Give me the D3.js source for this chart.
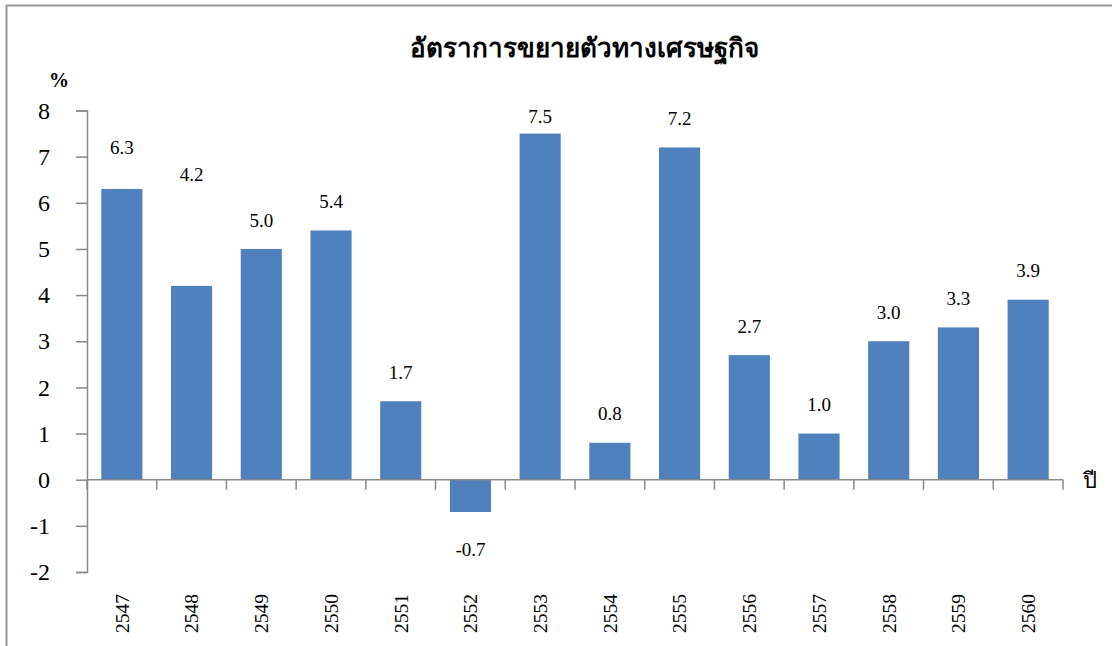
<!DOCTYPE html>
<html>
<head>
<meta charset="utf-8">
<script src="https://cdn.jsdelivr.net/npm/d3@7"></script>
<style>
  body { margin: 0; background: #fff; }
  svg text { font-family: "Liberation Serif", "Times New Roman", serif; fill: #000; }
</style>
</head>
<body>
<script>
var years = ['2547','2548','2549','2550','2551','2552','2553','2554','2555','2556','2557','2558','2559','2560'];
var growth = [6.3, 4.2, 5.0, 5.4, 1.7, -0.7, 7.5, 0.8, 7.2, 2.7, 1.0, 3.0, 3.3, 3.9];
var yTicks = [-2, -1, 0, 1, 2, 3, 4, 5, 6, 7, 8];
var title = 'อัตราการขยายตัวทางเศรษฐกิจ';

var w = 1112;
var h = 646;
var plotLeft = 87, plotRight = 1063, plotTop = 110.5, plotBottom = 572;
var barColor = '#4F81BD';
var axisColor = '#898989';

// plain hyphen instead of d3's unicode minus
var fmtInt = function(d){ return d3.format('d')(d).replace('\u2212', '-'); };
var fmtVal = function(d){ return d3.format('.1f')(d).replace('\u2212', '-'); };

var svg = d3.select('body')
  .append('svg')
  .attr('width', w)
  .attr('height', h);

// outer frame (top and left visible)
svg.append('rect')
  .attr('x', 6.5).attr('y', 5.5)
  .attr('width', w + 20).attr('height', h + 20)
  .attr('fill', 'none')
  .attr('stroke', '#999')
  .attr('stroke-width', 2);

var xScale = d3.scaleBand()
  .domain(years)
  .range([plotLeft, plotRight])
  .paddingInner(0.41)
  .paddingOuter(0.205);

var yScale = d3.scaleLinear()
  .domain([-2, 8])
  .range([plotBottom, plotTop]);

var step = xScale.step();

// bars
svg.selectAll('rect.bar')
  .data(growth)
  .enter()
  .append('rect')
  .attr('class', 'bar')
  .attr('x', function(d, i){ return xScale(years[i]); })
  .attr('y', function(d){ return yScale(Math.max(0, d)); })
  .attr('width', xScale.bandwidth())
  .attr('height', function(d){ return Math.abs(yScale(d) - yScale(0)); })
  .attr('fill', barColor);

// y axis
var yAxis = d3.axisLeft(yScale)
  .tickValues(yTicks)
  .tickSize(11)
  .tickPadding(26)
  .tickFormat(fmtInt);

var gy = svg.append('g')
  .attr('transform', 'translate(' + plotLeft + ',0)')
  .call(yAxis);
gy.select('.domain').attr('stroke', axisColor).attr('stroke-width', 1.5);
gy.selectAll('.tick line').attr('stroke', axisColor).attr('stroke-width', 1.5);
gy.selectAll('.tick text')
  .attr('font-size', '24px')
  .style('font-family', '"Liberation Serif", serif')
  .attr('fill', '#000');

// zero line with category ticks
svg.append('line')
  .attr('x1', plotLeft).attr('x2', plotRight)
  .attr('y1', yScale(0)).attr('y2', yScale(0))
  .attr('stroke', axisColor).attr('stroke-width', 1.5);

svg.selectAll('line.xtick')
  .data(d3.range(years.length + 1))
  .enter()
  .append('line')
  .attr('class', 'xtick')
  .attr('x1', function(i){ return plotLeft + i * step; })
  .attr('x2', function(i){ return plotLeft + i * step; })
  .attr('y1', yScale(0))
  .attr('y2', yScale(0) + 10)
  .attr('stroke', axisColor).attr('stroke-width', 1.5);

// x labels, rotated
svg.selectAll('text.xlab')
  .data(years)
  .enter()
  .append('text')
  .attr('class', 'xlab')
  .attr('transform', function(d){
    var cx = xScale(d) + xScale.bandwidth() / 2;
    return 'translate(' + cx + ',594) rotate(-90)';
  })
  .attr('text-anchor', 'end')
  .attr('dy', '0.35em')
  .attr('font-size', '19.5px')
  .text(function(d){ return d; });

// value labels (pixel offset above bar top, a few moved by hand)
var labelOffset = { 0: 42, 1: 112, 6: 17 };
svg.selectAll('text.val')
  .data(growth)
  .enter()
  .append('text')
  .attr('class', 'val')
  .attr('x', function(d, i){ return xScale(years[i]) + xScale.bandwidth() / 2; })
  .attr('y', function(d, i){
    if (d < 0) return yScale(d) + 37;
    var off = labelOffset[i] !== undefined ? labelOffset[i] : 29;
    return yScale(d) - off;
  })
  .attr('dy', '0.35em')
  .attr('text-anchor', 'middle')
  .attr('font-size', '19px')
  .text(fmtVal);

// title
svg.append('text')
  .attr('x', 584)
  .attr('y', 48)
  .attr('dy', '0.35em')
  .attr('text-anchor', 'middle')
  .attr('font-size', '26px')
  .attr('font-weight', 'bold')
  .text(title);

// axis titles
svg.append('text')
  .attr('x', 59)
  .attr('y', 80)
  .attr('dy', '0.35em')
  .attr('text-anchor', 'middle')
  .attr('font-size', '20px')
  .attr('font-weight', 'bold')
  .text('%');

svg.append('text')
  .attr('x', 1090)
  .attr('y', 480)
  .attr('dy', '0.35em')
  .attr('text-anchor', 'middle')
  .attr('font-size', '22px')
  .text('ปี');
</script>
</body>
</html>
